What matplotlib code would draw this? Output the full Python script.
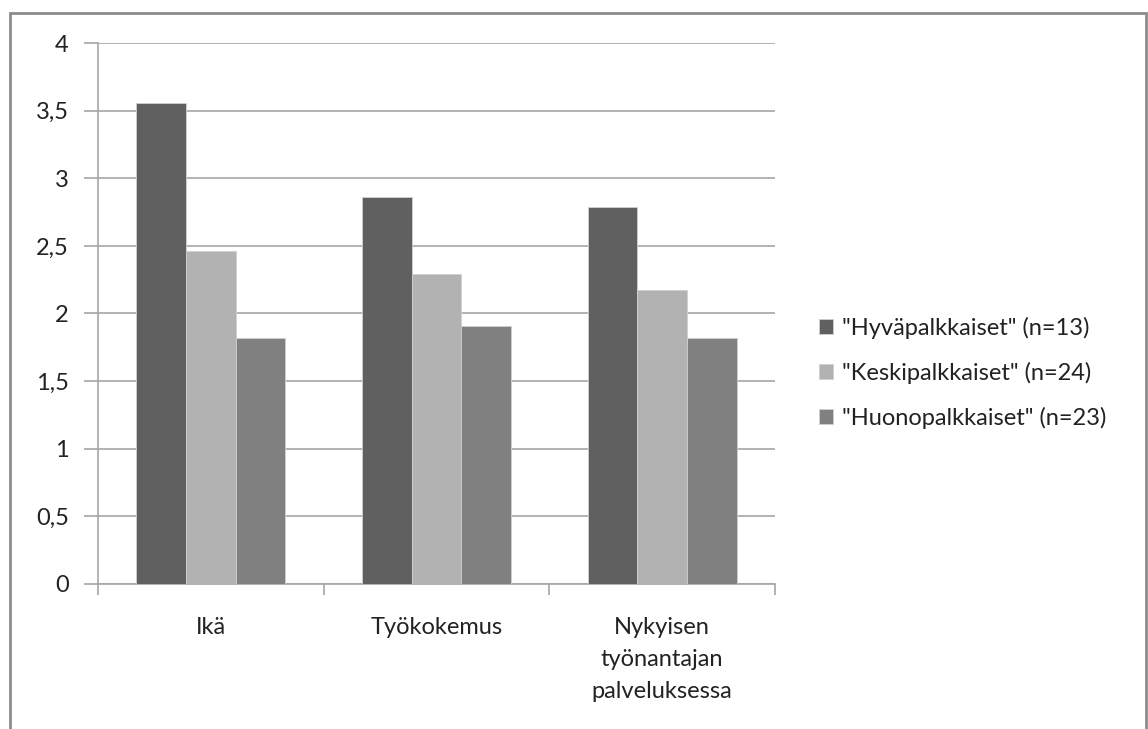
import matplotlib.pyplot as plt
import numpy as np
from matplotlib.patches import Rectangle
from matplotlib.ticker import FuncFormatter

categories = ['Ikä', 'Työkokemus', 'Nykyisen\ntyönantajan\npalveluksessa']
series_names = ['"Hyväpalkkaiset" (n=13)', '"Keskipalkkaiset" (n=24)', '"Huonopalkkaiset" (n=23)']
hyva = [3.56, 2.86, 2.79]
keski = [2.46, 2.29, 2.17]
huono = [1.82, 1.91, 1.82]
y_ticks = [0, 0.5, 1, 1.5, 2, 2.5, 3, 3.5, 4]

colors = ['#606060', '#b2b2b2', '#808080']

plt.rcParams['font.family'] = ['Lato', 'DejaVu Sans']
FS = 17

fig = plt.figure(figsize=(11.48, 7.29), dpi=100)
ax = fig.add_axes([0.0854, 0.199, 0.5897, 0.742])

x = np.arange(len(categories))
width = 0.22
for i, (vals, name) in enumerate(zip([hyva, keski, huono], series_names)):
    ax.bar(x + (i - 1) * width, vals, width, color=colors[i], label=name,
           edgecolor='#d0d0d0', linewidth=0.6, zorder=3)

ax.set_xlim(-0.5, len(categories) - 0.5)
ax.set_ylim(0, 4)
ax.set_yticks(y_ticks)
ax.yaxis.set_major_formatter(FuncFormatter(lambda v, p: ('%g' % v).replace('.', ',')))
ax.yaxis.grid(True, color='#a6a6a6', linewidth=1.2, zorder=0)

# group boundaries as major ticks, labels on minor ticks
ax.set_xticks(np.arange(-0.5, len(categories), 1.0))
ax.set_xticklabels([])
ax.set_xticks(x, minor=True)
ax.set_xticklabels(categories, minor=True, fontsize=FS, color='#222222')
ax.tick_params(axis='x', which='major', length=8, color='#a6a6a6', width=1.2)
ax.tick_params(axis='x', which='minor', length=0, pad=24)
for lbl in ax.get_xticklabels(minor=True):
    lbl.set_linespacing(1.65)
    lbl.set_verticalalignment('top')
ax.tick_params(axis='y', length=10, color='#a6a6a6', width=1.2, labelsize=FS,
               labelcolor='#222222', pad=11)

for s in ['top', 'right']:
    ax.spines[s].set_visible(False)
for s in ['left', 'bottom']:
    ax.spines[s].set_color('#a6a6a6')
    ax.spines[s].set_linewidth(1.2)

ax.legend(loc='center left', bbox_to_anchor=(1 + 44 / 677, 0.39), frameon=False,
          fontsize=FS, handlelength=0.6, handleheight=0.6, handletextpad=0.38,
          labelspacing=0.98, borderpad=0, borderaxespad=0, labelcolor='#222222')

# outer chart frame (bottom edge runs off the picture)
fig.patches.append(Rectangle((10 / 1148, -0.05), 1136 / 1148, 1 - 13 / 729 + 0.05,
                             transform=fig.transFigure, fill=False,
                             edgecolor='#8c8c8c', linewidth=2))

fig.savefig('out.png', dpi=100)
